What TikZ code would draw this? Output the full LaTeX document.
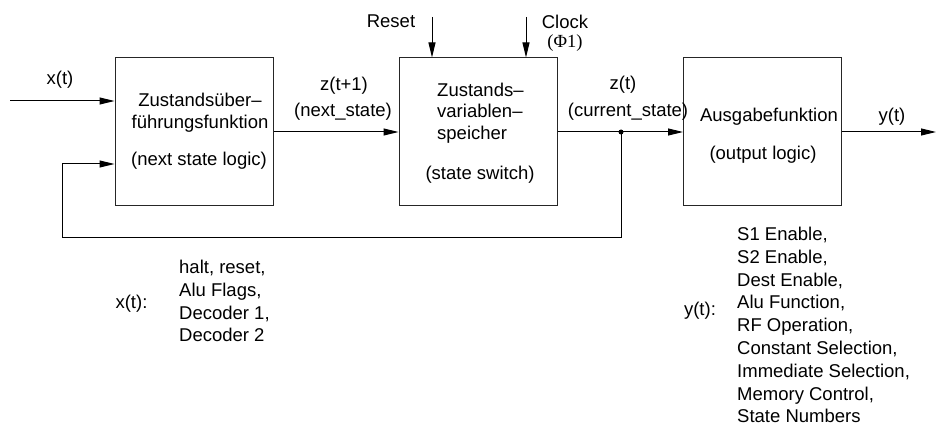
\documentclass[tikz,border=0pt]{standalone}
\usepackage{fontspec}
\setmainfont{Liberation Sans}
\newfontfamily\phifont{Liberation Serif}
\usetikzlibrary{arrows.meta}

\begin{document}
\begin{tikzpicture}[x=1pt,y=-1pt,blk/.style={shape=rectangle,draw=black!85,line width=1pt,minimum width=158pt,minimum height=148pt,inner sep=0pt},lbl/.style={inner sep=0pt,font=\fontsize{18.5}{21.5}\selectfont},lst/.style={lbl,align=left,font=\fontsize{18.5}{22.8}\selectfont},wire/.style={line width=1pt},sig/.style={wire,-{Triangle[length=15pt,width=7pt]}}]
\def\ym{132};
\def\yin{101};
\def\yfb{164};
\def\ybot{238};
\useasboundingbox (0,0) rectangle (936,427);

\node[blk] (ZUE) at (194,\ym) {};
\node[lbl,align=center] (ZUEt) at (200,112.5) {Zustandsüber–\\führungsfunktion};
\node[lbl] (ZUEs) at (199,160.5) {(next state logic)};

\node[blk] (ZVS) at (478,\ym) {};
\node[lbl,align=left,anchor=west] (ZVSt) at (437,113) {Zustands–\\variablen–\\speicher};
\node[lbl] (ZVSs) at (480,175) {(state switch)};

\node[blk] (AUS) at (762.5,\ym) {};
\node[lbl] (AUSt) at (769,117) {Ausgabefunktion};
\node[lbl] (AUSs) at (763,154.5) {(output logic)};

\coordinate (xin) at (10,\yin);
\node[lbl] (xinl) at (60,80) {x(t)};
\draw[sig] (xin) -- (ZUE.west |- xin);

\node[lbl] (zn) at (344,86) {z(t+1)};
\node[lbl] (znl) at (343,112) {(next\_state)};
\draw[sig] (ZUE.east) -- (ZVS.west);

\coordinate (rst) at (432,17);
\node[lbl] (rstl) at (391,21.5) {Reset};
\draw[sig] (rst) -- (rst |- ZVS.north);
\coordinate (clk) at (526,17);
\node[lbl] (clkl) at (565,21.5) {Clock};
\node[lbl] (clkp) at (565,43.5) {\phifont (Φ1)};
\draw[sig] (clk) -- (clk |- ZVS.north);

\coordinate (tap) at (621,\ym);
\node[lbl] (zc) at (623,85) {z(t)};
\node[lbl] (zcl) at (628,112) {(current\_state)};
\draw[wire] (ZVS.east) -- (tap);
\draw[sig] (tap) -- (AUS.west);
\fill (tap) circle (2.5pt);

\coordinate (fbR) at (621,\ybot);
\coordinate (fbL) at (62,\ybot);
\coordinate (fbI) at (62,\yfb);
\draw[sig] (tap) -- (fbR) -- (fbL) -- (fbI) -- (ZUE.west |- fbI);

\coordinate (yout) at (936,\ym);
\node[lbl] (youtl) at (892,117) {y(t)};
\draw[sig] (AUS.east) -- (yout);

\node[lbl] (xk) at (131.5,303.5) {x(t):};
\node[lst,anchor=west] (xlist) at (179,301) {halt, reset,\\Alu Flags,\\Decoder 1,\\Decoder 2};

\node[lbl] (yk) at (700,311) {y(t):};
\node[lst,anchor=west] (ylist) at (737,325) {S1 Enable,\\S2 Enable,\\Dest Enable,\\Alu Function,\\RF Operation,\\Constant Selection,\\Immediate Selection,\\Memory Control,\\State Numbers};
\end{tikzpicture}
\end{document}
